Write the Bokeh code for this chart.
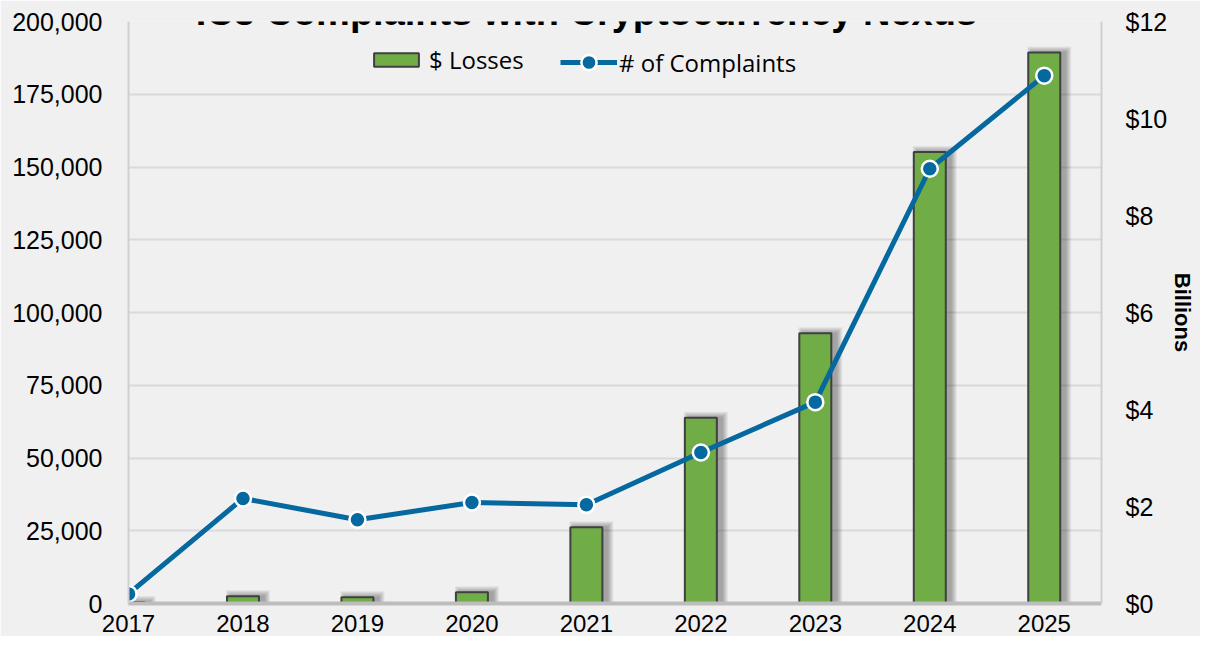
from bokeh.plotting import figure
from bokeh.models import (Range1d, LinearAxis, FixedTicker, NumeralTickFormatter,
                          Label, Legend, LegendItem)
from bokeh.embed import file_html
from bokeh.resources import INLINE

# ---- data ----
years = [2017, 2018, 2019, 2020, 2021, 2022, 2023, 2024, 2025]
complaints = [3300, 36100, 28800, 34700, 33900, 51900, 69200, 149400, 181400]
losses_billions = [0.03, 0.15, 0.13, 0.23, 1.57, 3.83, 5.57, 9.31, 11.36]
left_ticks = [0, 25000, 50000, 75000, 100000, 125000, 150000, 175000, 200000]
right_ticks = [0, 2, 4, 6, 8, 10, 12]
title_text = "IC3 Complaints with Cryptocurrency Nexus"
legend_losses = "$ Losses"
legend_complaints = "# of Complaints"
right_label = "Billions"

BG = "#f0f0f0"
GREEN = "#70ad47"
BLUE = "#05689f"
FONT = "Liberation Sans"

FRAME_W, FRAME_H = 973.0, 582.0

p = figure(width=1200, height=636, output_backend="svg", toolbar_location=None,
           x_range=Range1d(2017, 2025.5), y_range=Range1d(0, 200000),
           min_border_left=128, min_border_right=99, min_border_top=21,
           min_border_bottom=33, background_fill_color=BG, border_fill_color=BG,
           outline_line_color=None)
p.extra_y_ranges = {"loss": Range1d(0, 12)}

px_x = 8.5 / FRAME_W
px_loss = 12.0 / FRAME_H
px_cnt = 200000.0 / FRAME_H
bar_w = 32 * px_x

# soft drop shadow behind bars (to the right / top)
for s in [1, 2, 3, 4, 5, 6]:
    p.vbar(x=[y + 5 * px_x for y in years], width=bar_w + 2 * s * px_x,
           top=[v + s * px_loss for v in losses_billions], bottom=0,
           fill_color="black", fill_alpha=0.06, line_color=None,
           y_range_name="loss")

bars = p.vbar(x=years, width=bar_w, top=losses_billions, bottom=0,
              fill_color=GREEN, line_color="#404040", line_width=2,
              y_range_name="loss")

line_r = p.line(years, complaints, line_width=5, line_color=BLUE)
sc_r = p.scatter(years, complaints, size=16, fill_color=BLUE,
                 line_color="white", line_width=2.5)

common = dict(orientation="horizontal", background_fill_alpha=0,
              border_line_color=None, padding=0, margin=0,
              label_text_font="Open Sans", label_text_font_size="24px",
              label_text_color="black")
legend1 = Legend(items=[LegendItem(label=legend_losses, renderers=[bars])],
                 location=(240, 527), label_standoff=5,
                 glyph_width=56, glyph_height=17, label_height=17, **common)
legend2 = Legend(items=[LegendItem(label=legend_complaints, renderers=[line_r, sc_r])],
                 location=(432, 522), label_standoff=2,
                 glyph_width=57, glyph_height=38, label_height=17, **common)
p.add_layout(legend1)
p.add_layout(legend2)

# left axis
ya = p.yaxis[0]
ya.ticker = FixedTicker(ticks=left_ticks)
ya.formatter = NumeralTickFormatter(format="0,0")
ya.major_label_text_font = FONT
ya.major_label_text_font_size = "25px"
ya.major_label_text_color = "black"
ya.major_label_standoff = 20
ya.major_tick_line_color = None
ya.minor_tick_line_color = None
ya.axis_line_color = "#cfcfcf"
ya.axis_line_width = 2

# right axis with its label
ra = LinearAxis(y_range_name="loss", ticker=FixedTicker(ticks=right_ticks),
                formatter=NumeralTickFormatter(format="$0"))
ra.major_label_text_font = FONT
ra.major_label_text_font_size = "25px"
ra.major_label_text_color = "black"
ra.major_label_standoff = 18
ra.major_tick_line_color = None
ra.minor_tick_line_color = None
ra.axis_line_color = "#cfcfcf"
ra.axis_line_width = 2
ra.axis_label = right_label
ra.axis_label_text_font = FONT
ra.axis_label_text_font_style = "bold"
ra.axis_label_text_font_size = "22px"
ra.axis_label_text_color = "black"
ra.axis_label_standoff = 0
p.add_layout(ra, "right")

# x axis
xa = p.xaxis[0]
xa.ticker = FixedTicker(ticks=years)
xa.major_label_text_font = FONT
xa.major_label_text_font_size = "24px"
xa.major_label_text_color = "black"
xa.major_label_standoff = 5
xa.major_tick_line_color = None
xa.minor_tick_line_color = None
xa.axis_line_color = "#bdbdbd"
xa.axis_line_width = 4

p.xgrid.visible = False
p.ygrid.grid_line_color = "#d9d9d9"
p.ygrid.grid_line_width = 2

# title (partially cut at the top, as in the reference)
p.add_layout(Label(x=2021, y=200000 + 10 * px_cnt, text=title_text,
                   text_font=FONT, text_font_style="bold", text_font_size="38px",
                   text_align="center", text_baseline="alphabetic",
                   text_color="black"))

open("out.html", "w").write(file_html(p, INLINE))
